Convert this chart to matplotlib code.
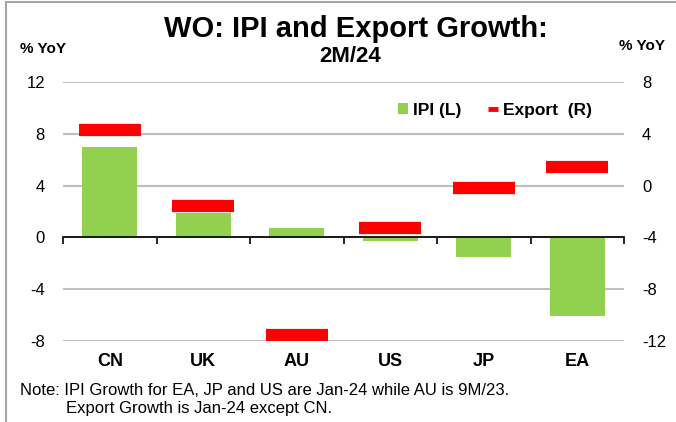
import matplotlib
matplotlib.use("Agg")
import matplotlib.pyplot as plt
from matplotlib.lines import Line2D
from matplotlib.patches import Patch
import matplotlib.transforms as mtransforms
import numpy as np

plt.rcParams['font.family'] = ['Liberation Sans', 'DejaVu Sans']

categories = ['CN', 'UK', 'AU', 'US', 'JP', 'EA']
ipi = [7.0, 1.9, 0.7, -0.25, -1.5, -6.05]
export = [4.3, -1.6, -11.5, -3.3, -0.2, 1.4]
left_ticks = [-8, -4, 0, 4, 8, 12]
right_ticks = [-12, -8, -4, 0, 4, 8]

W, H = 676, 422
fig = plt.figure(figsize=(W / 100, H / 100), dpi=100)

def fx(px):
    return px / W

def fy(py):
    return 1 - py / H

ax = fig.add_axes([fx(63), fy(341), fx(624) - fx(63), fy(82) - fy(341)])
ax2 = ax.twinx()

GREEN = '#92D050'
RED = '#FF0000'
GRID = '#BFBFBF'

x = np.arange(len(categories))
ax.bar(x, ipi, width=0.59, color=GREEN, zorder=3)
ax2.hlines(export, x - 0.33, x + 0.33, colors=RED, lw=8.8, zorder=4,
           capstyle='butt')

ax.set_xlim(-0.5, len(categories) - 0.5)
ax.set_ylim(-8, 12)
ax2.set_ylim(-12, 8)
ax.set_yticks(left_ticks)
ax2.set_yticks(right_ticks)
ax.set_yticklabels([str(t) for t in left_ticks])
ax2.set_yticklabels([str(t) for t in right_ticks])
ax.tick_params(axis='y', length=0, pad=13, labelsize=12)
ax2.tick_params(axis='y', length=0, pad=13, labelsize=12)
for lbl in ax2.get_yticklabels():
    lbl.set_horizontalalignment('left')

ax.yaxis.grid(True, color=GRID, lw=1.5, zorder=0)
ax.set_axisbelow(True)

for a in (ax, ax2):
    for s in ['left', 'right', 'top', 'bottom']:
        a.spines[s].set_visible(False)
ax.spines['bottom'].set_visible(True)
ax.spines['bottom'].set_position(('data', 0))
ax.spines['bottom'].set_color('black')
ax.spines['bottom'].set_linewidth(1.2)
ax.spines['bottom'].set_zorder(5)
ax.set_xticks(np.arange(-0.5, len(categories), 1.0))
ax.set_xticklabels([])
ax.tick_params(axis='x', direction='out', length=5, width=1.2, color='black')

trans = mtransforms.blended_transform_factory(ax.transData, fig.transFigure)
for i, c in enumerate(categories):
    ax.text(i, fy(361), c, transform=trans, ha='center', va='center',
            fontsize=13, fontweight='bold')

# Titles
fig.text(fx(356), fy(37), 'WO: IPI and Export Growth:', ha='center', va='baseline',
         fontsize=21, fontweight='bold')
fig.text(fx(350), fy(62.5), '2M/24', ha='center', va='baseline',
         fontsize=16, fontweight='bold')
fig.text(fx(20), fy(53), '% YoY', ha='left', va='baseline', fontsize=11, fontweight='bold')
fig.text(fx(665), fy(50), '% YoY', ha='right', va='baseline', fontsize=11, fontweight='bold')

# Legend
handles = [Patch(facecolor=GREEN, edgecolor='none'),
           Line2D([0], [0], color=RED, lw=3.5, solid_capstyle='butt')]
leg = ax.legend(handles, ['IPI (L)', 'Export  (R)'], loc='center',
                bbox_to_anchor=((495 - 63) / (624 - 63), (341 - 110) / (341 - 82)),
                ncol=2, frameon=False, prop={'weight': 'bold', 'size': 12.5},
                handlelength=0.6, handleheight=0.6, handletextpad=0.3,
                columnspacing=1.5)

# Notes
fig.text(fx(20), fy(395), 'Note: IPI Growth for EA, JP and US are Jan-24 while AU is 9M/23.',
         ha='left', va='baseline', fontsize=12)
fig.text(fx(66), fy(413), 'Export Growth is Jan-24 except CN.',
         ha='left', va='baseline', fontsize=12)

# Frame lines (left and top)
fig.add_artist(Line2D([fx(5.5), fx(5.5)], [0, fy(2)], transform=fig.transFigure,
                      color='#A6A6A6', lw=1.5))
fig.add_artist(Line2D([fx(5.5), 1], [fy(2), fy(2)], transform=fig.transFigure,
                      color='#A6A6A6', lw=1.5))

fig.savefig('out.png', dpi=100)
